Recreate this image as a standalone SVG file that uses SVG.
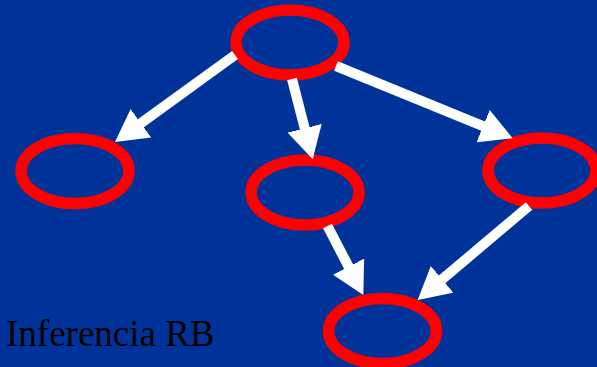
<svg xmlns="http://www.w3.org/2000/svg" width="597" height="367" viewBox="0 0 597 367">
  <style>
    .node { fill: #003399; stroke: #FF0000; stroke-width: 11.5; }
    .edge { stroke: #FFFFFF; stroke-width: 10; fill: none; marker-end: url(#head); }
    .label { font-family: "Liberation Serif", "Times New Roman", serif; font-size: 37px; fill: #000000; }
  </style>
  <defs>
    <marker id="head" markerUnits="userSpaceOnUse" markerWidth="32" markerHeight="35" viewBox="0 0 32 35" refX="2" refY="17.5" orient="auto">
      <path d="M0,0 L32,17.5 L0,35 Z" fill="#FFFFFF"/>
    </marker>
  </defs>
  <rect x="0" y="0" width="597" height="367" fill="#003399"/>
  <g id="nodes">
    <g id="node-top"><ellipse class="node" cx="290" cy="42.5" rx="54" ry="32.5"/></g>
    <g id="node-left"><ellipse class="node" cx="75" cy="171" rx="54" ry="32.5"/></g>
    <g id="node-middle"><ellipse class="node" cx="305" cy="192.5" rx="54" ry="32.5"/></g>
    <g id="node-right"><ellipse class="node" cx="542" cy="170.5" rx="54" ry="32.5"/></g>
    <g id="node-bottom"><ellipse class="node" cx="382.5" cy="331" rx="54" ry="32.5"/></g>
  </g>
  <g id="connectors">
    <line class="edge" x1="235" y1="55" x2="139.3" y2="124.4"/>
    <line class="edge" x1="292" y1="79" x2="305.2" y2="130.2"/>
    <line class="edge" x1="336" y1="66" x2="484.9" y2="126.9"/>
    <line class="edge" x1="327.5" y1="226" x2="349.5" y2="268.4"/>
    <line class="edge" x1="529" y1="206" x2="440.6" y2="280.6"/>
  </g>
  <text class="label" x="6" y="346">Inferencia RB</text>
</svg>
